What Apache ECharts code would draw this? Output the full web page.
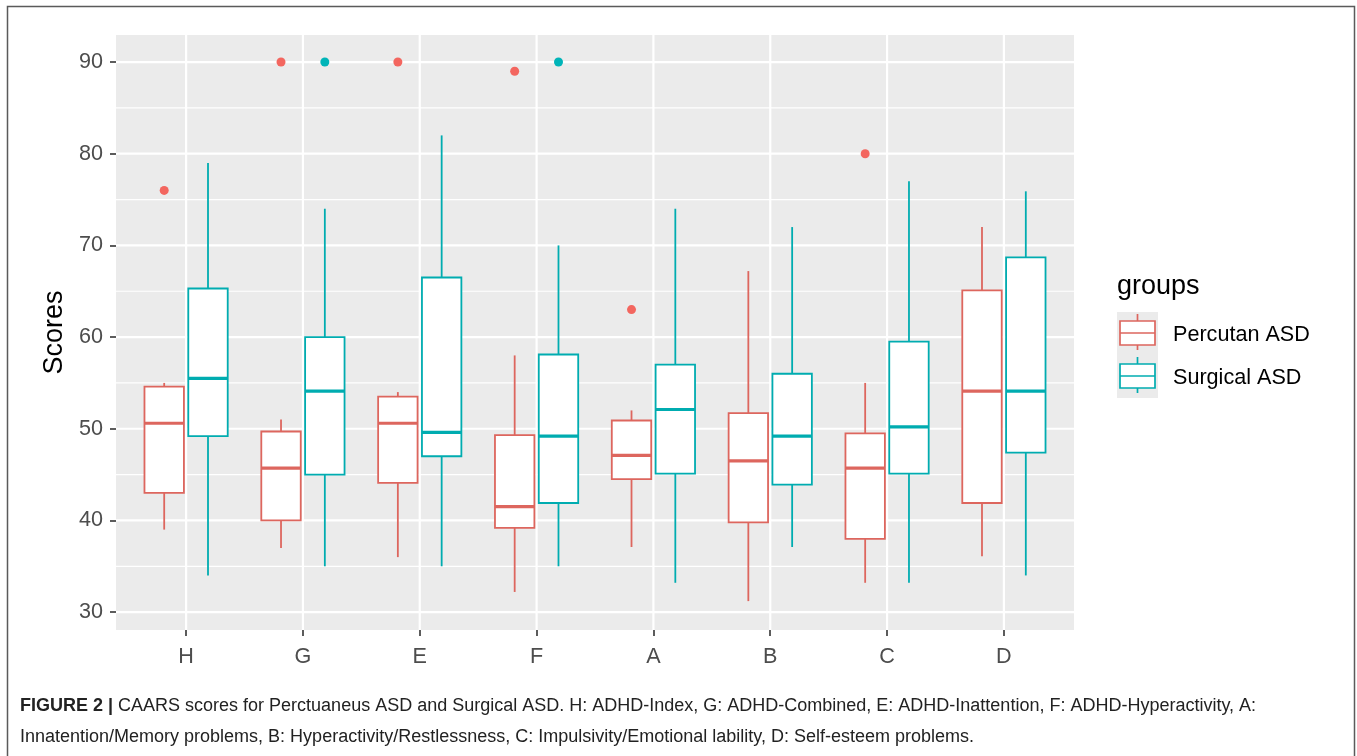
<!DOCTYPE html>
<html><head><meta charset="utf-8">
<script src="https://cdn.jsdelivr.net/npm/echarts@6/dist/echarts.min.js"></script>
<style>html,body{margin:0;padding:0;background:#fff}#c{width:1357px;height:756px}</style>
</head><body><div id="c"></div>
<script>
const categories = ['H','G','E','F','A','B','C','D'];
const groupNames = ['Percutan ASD','Surgical ASD'];
// [lower whisker, Q1, median, Q3, upper whisker]
const percutanStats = [
  [39, 43, 50.6, 54.6, 55],
  [37, 40, 45.7, 49.7, 51],
  [36, 44.1, 50.6, 53.5, 54],
  [32.2, 39.2, 41.5, 49.3, 58],
  [37.1, 44.5, 47.1, 50.9, 52],
  [31.2, 39.8, 46.5, 51.7, 67.2],
  [33.2, 38, 45.7, 49.5, 55],
  [36.1, 41.9, 54.1, 65.1, 72]
];
const surgicalStats = [
  [34, 49.2, 55.5, 65.3, 79],
  [35, 45, 54.1, 60, 74],
  [35, 47, 49.6, 66.5, 82],
  [35, 41.9, 49.2, 58.1, 70],
  [33.2, 45.1, 52.1, 57, 74],
  [37.1, 43.9, 49.2, 56, 72],
  [33.2, 45.1, 50.2, 59.5, 77],
  [34, 47.4, 54.1, 68.7, 75.9]
];
// [category index, value]
const percutanOutliers = [[0, 76], [1, 90], [2, 90], [3, 89], [4, 63], [6, 80]];
const surgicalOutliers = [[1, 90], [3, 90]];
const yMajorTicks = [30, 40, 50, 60, 70, 80, 90];
const yMinorTicks = [35, 45, 55, 65, 75, 85];
const captionBold = 'FIGURE 2 |';
const captionLine1 = ' CAARS scores for Perctuaneus ASD and Surgical ASD. H: ADHD-Index, G: ADHD-Combined, E: ADHD-Inattention, F: ADHD-Hyperactivity, A:';
const captionLine2 = 'Innatention/Memory problems, B: Hyperactivity/Restlessness, C: Impulsivity/Emotional lability, D: Self-esteem problems.';

const X_MIN = -0.6, X_MAX = categories.length - 1 + 0.6;
const Y_MIN = 28.05, Y_MAX = 92.95;
const BOX_W = 0.3375, DODGE = 0.1875;
const RED_LINE = '#DD665E', TEAL_LINE = '#00ACB0';
const RED_PT = '#F3665F', TEAL_PT = '#00B4B8';
const FONT = 'Liberation Sans, Arial, sans-serif';

function boxRenderer(offset, color) {
  return function (params, api) {
    const x = api.value(0) + offset;
    const lo = api.value(1), q1 = api.value(2), med = api.value(3), q3 = api.value(4), hi = api.value(5);
    const h = BOX_W / 2;
    const tl = api.coord([x - h, q3]);
    const br = api.coord([x + h, q1]);
    const cHi = api.coord([x, hi]);
    const cLo = api.coord([x, lo]);
    const mL = api.coord([x - h, med]);
    const mR = api.coord([x + h, med]);
    const lw = 1.8;
    return {
      type: 'group',
      children: [
        { type: 'line', shape: { x1: cHi[0], y1: cHi[1], x2: cHi[0], y2: tl[1] }, style: { stroke: color, lineWidth: lw } },
        { type: 'line', shape: { x1: cLo[0], y1: cLo[1], x2: cLo[0], y2: br[1] }, style: { stroke: color, lineWidth: lw } },
        { type: 'rect', shape: { x: tl[0], y: tl[1], width: br[0] - tl[0], height: br[1] - tl[1] }, style: { fill: '#ffffff', stroke: color, lineWidth: lw } },
        { type: 'line', shape: { x1: mL[0], y1: mL[1], x2: mR[0], y2: mR[1] }, style: { stroke: color, lineWidth: 3.2 } }
      ]
    };
  };
}

const hGridData = yMajorTicks.map(v => [v, 2.2]).concat(yMinorTicks.map(v => [v, 1.2]));
const vGridData = categories.map((c, i) => [i]);

const chart = echarts.init(document.getElementById('c'));
chart.setOption({
  animation: false,
  backgroundColor: '#ffffff',
  grid: { left: 116, right: 283, top: 35, bottom: 126, show: true, backgroundColor: '#EBEBEB', borderWidth: 0 },
  xAxis: {
    type: 'value', min: X_MIN, max: X_MAX,
    axisLine: { show: false, onZero: false },
    splitLine: { show: false },
    axisTick: { show: true, customValues: categories.map((c, i) => i), length: 6, lineStyle: { color: '#333333', width: 1.6 } },
    axisLabel: { customValues: categories.map((c, i) => i), formatter: v => categories[Math.round(v)], fontSize: 21.6, color: '#4D4D4D', margin: 16, fontFamily: FONT }
  },
  yAxis: {
    type: 'value', min: Y_MIN, max: Y_MAX,
    name: 'Scores', nameLocation: 'middle', nameRotate: 90, nameGap: 43,
    nameTextStyle: { fontSize: 27, color: '#000000', fontFamily: FONT },
    axisLine: { show: false, onZero: false },
    splitLine: { show: false },
    axisTick: { show: true, customValues: yMajorTicks, length: 6, lineStyle: { color: '#333333', width: 1.6 } },
    axisLabel: { customValues: yMajorTicks, fontSize: 21.6, color: '#4D4D4D', margin: 13, fontFamily: FONT }
  },
  series: [
    {
      type: 'custom', name: 'hgrid', z: 1, silent: true, clip: true,
      data: hGridData, encode: { y: 0 },
      renderItem: (params, api) => {
        const v = api.value(0);
        const a = api.coord([X_MIN, v]), b = api.coord([X_MAX, v]);
        return { type: 'line', shape: { x1: a[0], y1: a[1], x2: b[0], y2: b[1] }, style: { stroke: '#ffffff', lineWidth: api.value(1) } };
      }
    },
    {
      type: 'custom', name: 'vgrid', z: 1, silent: true, clip: true,
      data: vGridData, encode: { x: 0 },
      renderItem: (params, api) => {
        const v = api.value(0);
        const a = api.coord([v, Y_MIN]), b = api.coord([v, Y_MAX]);
        return { type: 'line', shape: { x1: a[0], y1: a[1], x2: b[0], y2: b[1] }, style: { stroke: '#ffffff', lineWidth: 2.2 } };
      }
    },
    {
      type: 'custom', name: groupNames[0], z: 3,
      data: percutanStats.map((s, i) => [i].concat(s)),
      encode: { x: 0, y: [1, 2, 3, 4, 5] },
      renderItem: boxRenderer(-DODGE, RED_LINE)
    },
    {
      type: 'custom', name: groupNames[1], z: 3,
      data: surgicalStats.map((s, i) => [i].concat(s)),
      encode: { x: 0, y: [1, 2, 3, 4, 5] },
      renderItem: boxRenderer(DODGE, TEAL_LINE)
    },
    {
      type: 'scatter', name: groupNames[0] + ' outliers', z: 4, symbolSize: 9,
      itemStyle: { color: RED_PT, opacity: 1 },
      data: percutanOutliers.map(p => [p[0] - DODGE, p[1]])
    },
    {
      type: 'scatter', name: groupNames[1] + ' outliers', z: 4, symbolSize: 9,
      itemStyle: { color: TEAL_PT, opacity: 1 },
      data: surgicalOutliers.map(p => [p[0] + DODGE, p[1]])
    }
  ],
  graphic: [
    { type: 'rect', silent: true, z: 100, shape: { x: 7.5, y: 6.5, width: 1347, height: 800 }, style: { fill: 'none', stroke: '#5a5a5a', lineWidth: 1.5 } },
    { type: 'text', left: 1117, top: 273, style: { text: 'groups', fontSize: 27, fill: '#000', fontFamily: FONT } },
    { type: 'rect', shape: { x: 1117, y: 312, width: 41, height: 86 }, style: { fill: '#EBEBEB' } },
    // legend key: Percutan
    { type: 'line', shape: { x1: 1137.5, y1: 314, x2: 1137.5, y2: 350 }, style: { stroke: RED_LINE, lineWidth: 1.7 } },
    { type: 'rect', shape: { x: 1120, y: 321, width: 35, height: 24 }, style: { fill: '#fff', stroke: RED_LINE, lineWidth: 1.7 } },
    { type: 'line', shape: { x1: 1120, y1: 333, x2: 1155, y2: 333 }, style: { stroke: RED_LINE, lineWidth: 1.7 } },
    { type: 'text', left: 1173, top: 324, style: { text: groupNames[0], fontSize: 21.6, fill: '#000', fontFamily: FONT } },
    // legend key: Surgical
    { type: 'line', shape: { x1: 1137.5, y1: 357, x2: 1137.5, y2: 393 }, style: { stroke: TEAL_LINE, lineWidth: 1.7 } },
    { type: 'rect', shape: { x: 1120, y: 364, width: 35, height: 24 }, style: { fill: '#fff', stroke: TEAL_LINE, lineWidth: 1.7 } },
    { type: 'line', shape: { x1: 1120, y1: 376, x2: 1155, y2: 376 }, style: { stroke: TEAL_LINE, lineWidth: 1.7 } },
    { type: 'text', left: 1173, top: 367, style: { text: groupNames[1], fontSize: 21.6, fill: '#000', fontFamily: FONT } },
    // caption
    { type: 'text', left: 20, top: 697, style: {
        text: '{b|' + captionBold + '}' + captionLine1, fontSize: 18, fill: '#222', fontFamily: FONT,
        rich: { b: { fontWeight: 'bold', fontSize: 18, fill: '#222', fontFamily: FONT } } } },
    { type: 'text', left: 20, top: 728, style: { text: captionLine2, fontSize: 18, fill: '#222', fontFamily: FONT } }
  ]
});
</script></body></html>
